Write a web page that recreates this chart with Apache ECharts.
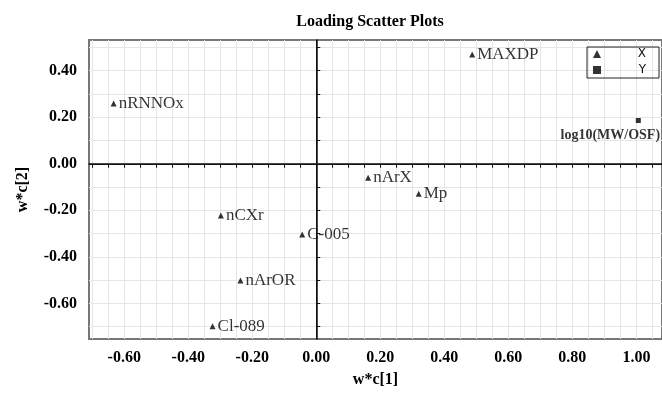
<!DOCTYPE html>
<html>
<head>
<meta charset="utf-8">
<script src="https://cdn.jsdelivr.net/npm/echarts@6/dist/echarts.min.js"></script>
<style>
  html, body { margin: 0; padding: 0; background: #fff; }
  #chart { width: 662px; height: 395px; }
</style>
</head>
<body>
<div id="chart"></div>
<script>
// X loadings (triangles)
const xNames = ['MAXDP', 'nRNNOx', 'nCXr', 'C-005', 'nArOR', 'Cl-089', 'nArX', 'Mp']
const xW1 = [0.487, -0.633, -0.298, -0.044, -0.237, -0.324, 0.162, 0.320]
const xW2 = [0.470, 0.259, -0.222, -0.304, -0.502, -0.698, -0.060, -0.129]
// Y loadings (squares)
const yNames = ['log10(MW/OSF)']
const yW1 = [1.006]
const yW2 = [0.186]

const xLabelValues = [-0.6, -0.4, -0.2, 0, 0.2, 0.4, 0.6, 0.8, 1.0]
const xTickValues = [-0.7, -0.65, -0.6, -0.55, -0.5, -0.45, -0.4, -0.35, -0.3, -0.25, -0.2, -0.15, -0.1, -0.05,
  0, 0.05, 0.1, 0.15, 0.2, 0.25, 0.3, 0.35, 0.4, 0.45, 0.5, 0.55, 0.6, 0.65, 0.7, 0.75, 0.8, 0.85, 0.9, 0.95, 1.0, 1.05]
const yLabelValues = [-0.6, -0.4, -0.2, 0, 0.2, 0.4]
const yTickValues = [-0.7, -0.6, -0.5, -0.4, -0.3, -0.2, -0.1, 0, 0.1, 0.2, 0.3, 0.4, 0.5]

const serif = '"Liberation Serif", "DejaVu Serif", serif'

let myChart = echarts.init(document.getElementById('chart'))

let xData = xNames.map((n, i) => [xW1[i], xW2[i], n])
let yData = yNames.map((n, i) => [yW1[i], yW2[i], n])

let option = {
  animation: false,
  title: {
    text: 'Loading Scatter Plots',
    left: 365, top: 9, textAlign: 'center',
    textStyle: { fontFamily: serif, fontSize: 16, fontWeight: 'bold', color: '#000' }
  },
  legend: {
    orient: 'vertical',
    left: 587, top: 47,
    padding: [1, 13, 2, 6],
    itemWidth: 8, itemHeight: 8, itemGap: 4,
    borderColor: '#222', borderWidth: 1,
    data: [{ name: 'X', icon: 'triangle' }, { name: 'Y', icon: 'rect' }],
    formatter: n => '{a|' + n + '}',
    textStyle: {
      fontFamily: '"DejaVu Sans", sans-serif', fontSize: 12, color: '#111',
      rich: { a: { width: 40, align: 'right', lineHeight: 13, fontSize: 12 } }
    }
  },
  grid: {
    left: 89, right: 0, top: 40, bottom: 56,
    show: true, borderColor: '#777', borderWidth: 2, backgroundColor: 'transparent'
  },
  xAxis: {
    type: 'value', min: -0.71, max: 1.08,
    name: 'w*c[1]', nameLocation: 'middle', nameGap: 33,
    nameTextStyle: { fontFamily: serif, fontSize: 16, fontWeight: 'bold', color: '#000' },
    axisLine: { show: true, lineStyle: { color: '#111', width: 1.5 } },
    axisTick: { show: true, length: 4, customValues: xTickValues, lineStyle: { color: '#111' } },
    axisLabel: {
      customValues: xLabelValues, margin: 11,
      formatter: v => v.toFixed(2),
      fontFamily: serif, fontSize: 16, fontWeight: 'bold', color: '#000'
    },
    splitLine: { show: true, lineStyle: { color: '#e6e6e6', width: 1 } }
  },
  yAxis: {
    type: 'value', min: -0.753, max: 0.532,
    name: 'w*c[2]', nameLocation: 'middle', nameGap: 58,
    nameTextStyle: { fontFamily: serif, fontSize: 16, fontWeight: 'bold', color: '#000' },
    axisLine: { show: true, lineStyle: { color: '#111', width: 1.5 } },
    axisTick: { show: true, length: 4, inside: true, customValues: yTickValues, lineStyle: { color: '#111' } },
    axisLabel: {
      customValues: yLabelValues, margin: 12,
      formatter: v => v.toFixed(2),
      fontFamily: serif, fontSize: 16, fontWeight: 'bold', color: '#000'
    },
    splitLine: { show: true, lineStyle: { color: '#e6e6e6', width: 1 } }
  },
  series: [
    {
      name: 'X', type: 'scatter', symbol: 'triangle', symbolSize: 6,
      itemStyle: { color: '#000' },
      data: xData,
      label: {
        show: true, position: 'right', distance: 2,
        formatter: p => p.data[2],
        fontFamily: serif, fontSize: 17, color: '#000'
      },
      markLine: {
        silent: true, symbol: 'none', animation: false,
        label: { show: false },
        lineStyle: { color: '#111', width: 1, type: 'solid' },
        data: [{ xAxis: 0 }, { yAxis: 0 }]
      }
    },
    {
      name: 'Y', type: 'scatter', symbol: 'rect', symbolSize: 5,
      itemStyle: { color: '#000' },
      data: yData,
      label: {
        show: true, position: 'bottom', distance: 5, offset: [-28, 0],
        formatter: p => p.data[2],
        fontFamily: serif, fontSize: 14, fontWeight: 'bold', color: '#000'
      }
    }
  ]
}
myChart.setOption(option)
</script>
</body>
</html>
